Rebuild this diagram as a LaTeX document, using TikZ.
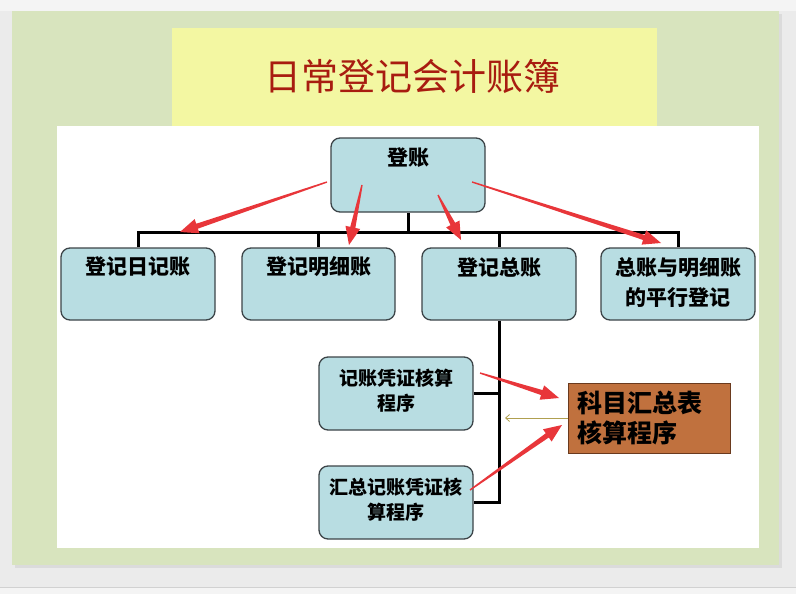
\documentclass[tikz,border=0pt]{standalone}
\usepackage{fontspec}
\newfontfamily\cjk{Noto Sans CJK SC}
\usetikzlibrary{calc,arrows.meta}
\definecolor{pagegray}{HTML}{EBEBEB}
\definecolor{topgray}{HTML}{F4F4F4}
\definecolor{slidegreen}{HTML}{D8E4BE}
\definecolor{titleyellow}{HTML}{F3F7A2}
\definecolor{titlered}{HTML}{A81C10}
\definecolor{boxblue}{HTML}{B8DDE2}
\definecolor{boxedge}{HTML}{3C4448}
\definecolor{brownfill}{HTML}{C0713E}
\definecolor{brownedge}{HTML}{6A3A1E}
\definecolor{arrowred}{HTML}{E8363A}
\definecolor{olive}{HTML}{B0A050}
\tikzset{
  bluebox/.style={draw=boxedge, fill=boxblue, line width=1.3pt, rounded corners=9pt,
    minimum width=154pt, inner sep=0pt},
  boxtext/.style={font={\cjk\bfseries\fontsize{21}{30}\selectfont}, align=center, inner sep=0pt},
  smalltext/.style={font={\cjk\bfseries\fontsize{19}{25}\selectfont}, align=center, inner sep=0pt},
  treeline/.style={line width=3pt, black},
}
\newcommand\taperarrow[2]{%
  \coordinate (tpc) at ($(#2)!18pt!(#1)$);
  \fill[arrowred] ($(#1)!0.7pt!90:(#2)$) -- ($(tpc)!2.6pt!90:(#2)$) -- ($(tpc)!7.5pt!90:(#2)$)
    -- (#2) -- ($(tpc)!7.5pt!-90:(#2)$) -- ($(tpc)!2.6pt!-90:(#2)$) -- ($(#1)!0.7pt!-90:(#2)$) -- cycle;
}
\begin{document}
\begin{tikzpicture}[x=1pt,y=-1pt]
\useasboundingbox (0,0) rectangle (796,594);
% page background
\fill[pagegray] (0,0) rectangle (796,594);
\fill[topgray] (0,0) rectangle (796,11);
\fill[topgray] (0,588) rectangle (796,594);
\draw[black!18, line width=1pt] (0,587.5) -- (796,587.5);
% slide with shadow
\fill[black!14] (15,14) rectangle (782,568);
\fill[slidegreen] (12,11) rectangle (779,565);
% title band
\fill[titleyellow] (172,28) rectangle (657,126);
\node[text=titlered, font={\cjk\fontsize{37}{40}\selectfont}, inner sep=0pt] (title) at (412,77) {日常登记会计账簿};
% white panel
\fill[white] (57,126) rectangle (759,548);

% boxes
\node[bluebox, minimum height=74pt] (top) at (408,175) {};
\node[bluebox, minimum height=72pt] (b1) at (138,284) {};
\node[bluebox, minimum height=72pt, minimum width=153pt] (b2) at (318.5,284) {};
\node[bluebox, minimum height=72pt] (b3) at (499,284) {};
\node[bluebox, minimum height=72pt] (b4) at (678,284) {};
\node[bluebox, minimum height=73pt] (s1) at (396,393.5) {};
\node[bluebox, minimum height=73pt] (s2) at (396,502.5) {};
\node[draw=brownedge, fill=brownfill, line width=1pt, minimum width=162pt, minimum height=70pt, inner sep=0pt] (br) at (649,418) {};

% texts
\node[boxtext] (ttop) at (408,158) {登账};
\node[boxtext] (t1) at (138,267) {登记日记账};
\node[boxtext] (t2) at (318.5,267) {登记明细账};
\node[boxtext] (t3) at (499,267) {登记总账};
\node[boxtext] (t4) at (678,282) {总账与明细账\\的平行登记};
\node[smalltext] (ts1) at (396,390.5) {记账凭证核算\\程序};
\node[smalltext] (ts2) at (396,499.5) {汇总记账凭证核\\算程序};
\node[font={\cjk\bfseries\fontsize{25}{30}\selectfont}, align=left, inner sep=0pt, anchor=west] (tbr) at (577,418) {科目汇总表\\核算程序};

% tree connectors
\coordinate (bus) at (408,232);
\draw[treeline] (top.south) -- (bus);
\draw[treeline] (b1.north) -- (b1.north |- bus) -- (b4.north |- bus) -- (b4.north);
\draw[treeline] (b2.north) -- (b2.north |- bus);
\draw[treeline] (b3.north) -- (b3.north |- bus);
\draw[treeline] (b3.south) -- (b3.south |- s2.east) -- (s2.east);
\draw[treeline] (s1.east) -- (s1.east -| b3.south);

% thin olive arrow
\coordinate (oe) at (505,418);
\draw[olive, line width=0.8pt, -{Straight Barb[length=4pt,width=7pt]}] (br.west) -- (oe);

% red arrows
\coordinate (r1s) at (327,182); \coordinate (r1e) at (180,232);
\coordinate (r2s) at (362,185); \coordinate (r2e) at (349,245);
\coordinate (r3s) at (438,195); \coordinate (r3e) at (461,240);
\coordinate (r4s) at (472,182); \coordinate (r4e) at (661,243);
\coordinate (r5s) at (480,373); \coordinate (r5e) at (559,398);
\coordinate (r6s) at (470,490); \coordinate (r6e) at (562,425);
\taperarrow{r1s}{r1e}
\taperarrow{r2s}{r2e}
\taperarrow{r3s}{r3e}
\taperarrow{r4s}{r4e}
\taperarrow{r5s}{r5e}
\taperarrow{r6s}{r6e}
\end{tikzpicture}
\end{document}
